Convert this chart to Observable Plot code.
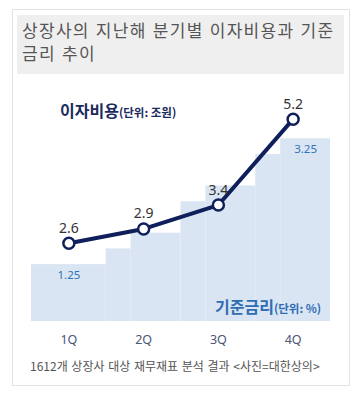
<!DOCTYPE html>
<html>
<head>
<meta charset="utf-8">
<script src="https://cdn.jsdelivr.net/npm/d3@7"></script>
<script src="https://cdn.jsdelivr.net/npm/@observablehq/plot@0.6"></script>
<style>
  html, body { margin: 0; padding: 0; background: #fff; }
  body { width: 358px; height: 393px; position: relative; overflow: hidden; font-family: "Noto Sans CJK KR", "Noto Sans", sans-serif; }
  #frame { position: absolute; left: 12px; top: 9px; width: 338px; height: 377px; border: 1px solid #e2e2e2; box-sizing: border-box; }
  #title { position: absolute; left: 17px; top: 15px; width: 327px; height: 59px; background: #efefef; color: #555; font-size: 17px; line-height: 22.5px; padding: 4px 0 0 5px; box-sizing: border-box; letter-spacing: 1.3px; word-spacing: 1px; }
  #chart { position: absolute; left: 0; top: 80px; }
  .lbl { position: absolute; white-space: nowrap; font-weight: bold; }
  .lbl small { font-size: 11.5px; font-weight: bold; }
  #costLbl { left: 60px; top: 98px; color: #1b2b5e; font-size: 16px; }
  #rateLbl { left: 215px; top: 294px; color: #2f6db3; font-size: 16px; }
  #caption { position: absolute; left: 30px; top: 357px; color: #555; font-size: 12px; white-space: nowrap; word-spacing: 1px; }
</style>
</head>
<body>
<div id="frame"></div>
<div id="title">상장사의 지난해 분기별 이자비용과 기준<br>금리 추이</div>
<div id="chart"></div>
<div class="lbl" id="costLbl">이자비용<small>(단위: 조원)</small></div>
<div class="lbl" id="rateLbl">기준금리<small>(단위: %)</small></div>
<div id="caption">1612개 상장사 대상 재무재표 분석 결과 &lt;사진=대한상의&gt;</div>
<script>
// Quarterly interest cost (trillion won)
const quarters = ["1Q", "2Q", "3Q", "4Q"];
const interestCost = [2.6, 2.9, 3.4, 5.2];

// Base-rate steps (%), positioned along the quarter axis
const stepStart = [0.5, 1.5, 1.8333, 2.5, 2.8333, 3.5, 3.8333];
const stepEnd   = [1.5, 1.8333, 2.5, 2.8333, 3.5, 3.8333, 4.5];
const baseRate  = [1.25, 1.5, 1.75, 2.25, 2.5, 3.0, 3.25];
const rateLabelSteps = [0, 6]; // steps whose value is written

// Secondary (rate) axis mapped onto the cost axis
const yMin = 0.96, yMax = 6.01;
const rateToY = d3.scaleLinear().domain([0.346, 3.25]).range([yMin, 4.789]);

const costData = interestCost.map((v, i) => ({q: i + 1, v, label: String(v)}));
const stepData = baseRate.map((r, i) => ({x1: stepStart[i], x2: stepEnd[i], r, y: rateToY(r)}));
const rateLabels = rateLabelSteps.map(i => ({x: (stepStart[i] + stepEnd[i]) / 2, y: rateToY(baseRate[i]), label: String(baseRate[i].toFixed(2))}));

const navy = "#0e1f5b";

const chart = Plot.plot({
  width: 358,
  height: 270,
  marginLeft: 31,
  marginRight: 28,
  marginTop: 0,
  marginBottom: 29,
  style: {fontFamily: "'Noto Sans', 'Noto Sans CJK KR', sans-serif", background: "transparent"},
  x: {domain: [0.5, 4.5]},
  y: {domain: [yMin, yMax], axis: null},
  marks: [
    Plot.rectY(stepData, {x1: "x1", x2: "x2", y1: yMin, y2: "y", fill: "#dae5f3", inset: 0}),
    Plot.text(rateLabels, {x: "x", y: "y", text: "label", dy: 11, fill: "#2f74b8", fontSize: 11.5}),
    Plot.line(costData, {x: "q", y: "v", stroke: navy, strokeWidth: 4}),
    Plot.dot(costData, {x: "q", y: "v", r: 5.5, fill: "white", stroke: navy, strokeWidth: 2.5}),
    Plot.text(costData, {x: "q", y: "v", text: "label", dy: -15, fill: "#333", fontSize: 14}),
    Plot.axisX({ticks: [1, 2, 3, 4], tickFormat: d => quarters[d - 1], tickSize: 0, tickPadding: 14, fontSize: 12.5, color: "#4a5677"})
  ]
});
document.getElementById("chart").appendChild(chart);
</script>
</body>
</html>
